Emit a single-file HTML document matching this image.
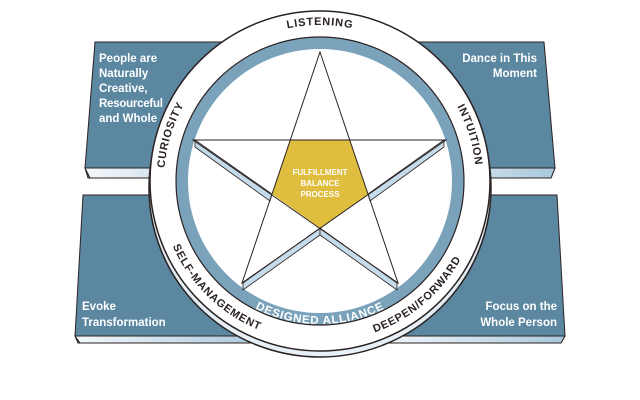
<!DOCTYPE html>
<html><head><meta charset="utf-8"><style>
html,body{margin:0;padding:0;background:#fff;width:640px;height:400px;overflow:hidden}
svg{display:block}
text{font-family:"Liberation Sans",sans-serif;font-weight:bold}
</style></head><body>
<svg width="640" height="400" viewBox="0 0 640 400" xmlns="http://www.w3.org/2000/svg">
<defs>
<linearGradient id="strip" x1="0" x2="1" y1="0" y2="0">
<stop offset="0" stop-color="#f4f8fb"/><stop offset="1" stop-color="#a9c8dc"/></linearGradient>
<linearGradient id="base" x1="0" x2="0" y1="0" y2="1">
<stop offset="0" stop-color="#cfe0ec"/><stop offset="1" stop-color="#e8f1f7"/></linearGradient>
<path id="top" d="M 164,181 A 156,156 0 0 1 476,181"/>
<path id="bot" d="M 159,181 A 161,161 0 0 0 481,181"/>
<path id="inner" d="M 177,181 A 143,143 0 0 0 463,181"/>
</defs>
<g stroke="#2b2222" stroke-width="1">
<polygon points="85,168 95,42 260,42 260,178 88,178" fill="#5b87a0"/>
<polygon points="85,168 260,168 260,178 90,178" fill="url(#strip)"/>
<polygon points="380,42 544,42 555,168 551,178 380,178" fill="#5b87a0"/>
<polygon points="380,168 555,168 551,178 380,178" fill="url(#strip)"/>
<polygon points="83,195 260,195 260,343 78,343 75,336" fill="#5b87a0"/>
<polygon points="75,336 260,336 260,343 80,343" fill="url(#strip)"/>
<polygon points="380,195 557,195 565,336 561,343 380,343" fill="#5b87a0"/>
<polygon points="380,336 565,336 561,343 380,343" fill="url(#strip)"/>
</g>
<g fill="#fff" font-size="11.5">
<text x="99" y="62">People are</text>
<text x="99" y="77">Naturally</text>
<text x="99" y="92">Creative,</text>
<text x="99" y="107" textLength="64">Resourceful</text>
<text x="99" y="122">and Whole</text>
<text x="537" y="62" text-anchor="end">Dance in This</text>
<text x="537" y="77" text-anchor="end">Moment</text>
<text x="82" y="310">Evoke</text>
<text x="82" y="326">Transformation</text>
<text x="557" y="310" text-anchor="end">Focus on the</text>
<text x="557" y="326" text-anchor="end">Whole Person</text>
</g>
<ellipse cx="320" cy="188" rx="171" ry="169" fill="url(#base)" stroke="#2b2222" stroke-width="1.5"/>
<circle cx="320" cy="181" r="170" fill="#fff" stroke="#2b2222" stroke-width="1.5"/>
<circle cx="320" cy="181" r="138" fill="#fff" stroke="#7aa3bb" stroke-width="12"/>
<circle cx="320" cy="181" r="144" fill="none" stroke="#2b2222" stroke-width="1.2"/>
<g fill="#c5dbea" stroke="#2b2222" stroke-width="0.8">
<polygon points="195,140 272,194 270,201 195,147"/>
<polygon points="444,140 368,194 370,201 444,147"/>
<polygon points="320,228 243,283 243,290 320,235"/>
<polygon points="320,228 397,283 397,290 320,235"/>
</g>
<polygon points="290,140 350,140 368,194 320,228 272,194" fill="#dfbd3e"/>
<polygon points="320,52 398,283 193,140 446,140 242,283" fill="none" stroke="#2b2222" stroke-width="1"/>
<g fill="#fff" font-size="8" text-anchor="middle">
<text x="320" y="175">FULFILLMENT</text>
<text x="320" y="186">BALANCE</text>
<text x="320" y="197">PROCESS</text>
</g>
<g fill="#2b2222" font-size="11" letter-spacing="0.8" text-anchor="middle">
<text><textPath href="#top" startOffset="50%">LISTENING</textPath></text>
<text><textPath href="#top" startOffset="9.5%">CURIOSITY</textPath></text>
<text><textPath href="#top" startOffset="90.5%">INTUITION</textPath></text>
<text><textPath href="#bot" startOffset="25.5%">SELF-MANAGEMENT</textPath></text>
<text><textPath href="#bot" startOffset="72.5%">DEEPEN/FORWARD</textPath></text>
</g>
<text fill="#fff" font-size="11.5" letter-spacing="0.8" text-anchor="middle"><textPath href="#inner" startOffset="50%">DESIGNED ALLIANCE</textPath></text>
</svg>
</body></html>
